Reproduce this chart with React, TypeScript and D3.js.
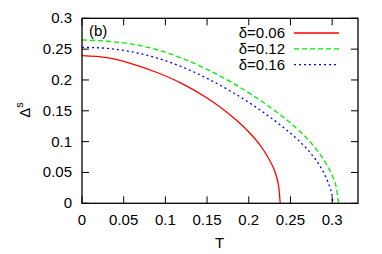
import React, {useEffect, useRef} from 'react'
import * as d3 from 'd3'

const width = 382;
const height = 254;
const margin = ({top: 18.3, right: 24, bottom: 50.7, left: 82});

// delta = 0.06
const t06 = [0, 0.03, 0.06, 0.09, 0.12, 0.15, 0.18, 0.2, 0.215, 0.225, 0.232, 0.236, 0.2377];
const d06 = [0.2394, 0.2361, 0.2262, 0.2121, 0.1941, 0.1707, 0.1407, 0.1157, 0.0917, 0.0697, 0.0487, 0.026, 0];
// delta = 0.12
const t12 = [0, 0.03, 0.06, 0.09, 0.12, 0.15, 0.18, 0.21, 0.24, 0.26, 0.28, 0.292, 0.3, 0.305, 0.3077];
const d12 = [0.2648, 0.2628, 0.258, 0.249, 0.2352, 0.2172, 0.1956, 0.1704, 0.1413, 0.1183, 0.0893, 0.0659, 0.0451, 0.0251, 0];
// delta = 0.16
const t16 = [0, 0.03, 0.06, 0.09, 0.12, 0.15, 0.18, 0.21, 0.24, 0.26, 0.275, 0.285, 0.292, 0.297, 0.3, 0.301];
const d16 = [0.253, 0.2512, 0.2455, 0.2356, 0.2212, 0.2026, 0.1804, 0.1546, 0.1246, 0.1016, 0.0798, 0.0613, 0.0438, 0.0268, 0.0127, 0];

const labels = ["δ=0.06", "δ=0.12", "δ=0.16"];
const colors = ["#ff0000", "#00ee00", "#0000ff"];
const dashes = [null, "5,3", "2,3"];

const xTicks = [0, 0.05, 0.1, 0.15, 0.2, 0.25, 0.3];
const yTicks = [0, 0.05, 0.1, 0.15, 0.2, 0.25, 0.3];

const font = "'Liberation Sans', Arial, Helvetica, sans-serif";

export default function App() {
    const ref = useRef<SVGSVGElement>(null);

    useEffect(() => {
        const series = [
            t06.map((t, i) => [t, d06[i]]),
            t12.map((t, i) => [t, d12[i]]),
            t16.map((t, i) => [t, d16[i]]),
        ];

        const x = d3.scaleLinear()
            .domain([0, 0.331])
            .range([margin.left, width - margin.right]);

        const y = d3.scaleLinear()
            .domain([0, 0.3])
            .range([height - margin.bottom, margin.top]);

        const svg = d3.select(ref.current);
        svg.selectAll("*").remove();

        const line = d3.line<number[]>()
            .x(d => x(d[0]))
            .y(d => y(d[1]))
            .curve(d3.curveMonotoneX);

        svg.append("g")
            .attr("fill", "none")
            .attr("stroke-width", 1.3)
            .selectAll("path")
            .data(series)
            .join("path")
            .attr("stroke", (d, i) => colors[i])
            .attr("stroke-dasharray", (d, i) => dashes[i])
            .attr("d", d => line(d));

        const tickLen = 7;
        const axes = svg.append("g")
            .attr("stroke", "#000")
            .attr("stroke-width", 1);

        xTicks.forEach(v => {
            axes.append("line")
                .attr("x1", x(v)).attr("x2", x(v))
                .attr("y1", y(0)).attr("y2", y(0) - tickLen);
            axes.append("line")
                .attr("x1", x(v)).attr("x2", x(v))
                .attr("y1", y(0.3)).attr("y2", y(0.3) + tickLen);
        });
        yTicks.forEach(v => {
            axes.append("line")
                .attr("x1", x.range()[0]).attr("x2", x.range()[0] + tickLen)
                .attr("y1", y(v)).attr("y2", y(v));
            axes.append("line")
                .attr("x1", x.range()[1]).attr("x2", x.range()[1] - tickLen)
                .attr("y1", y(v)).attr("y2", y(v));
        });

        axes.append("rect")
            .attr("x", x.range()[0])
            .attr("y", y(0.3))
            .attr("width", x.range()[1] - x.range()[0])
            .attr("height", y(0) - y(0.3))
            .attr("fill", "none")
            .attr("stroke-width", 1.3);

        const text = svg.append("g")
            .attr("font-family", font)
            .attr("font-size", 15)
            .attr("fill", "#000");

        text.selectAll(".xt")
            .data(xTicks)
            .join("text")
            .attr("x", d => x(d))
            .attr("y", y(0) + 21.5)
            .attr("text-anchor", "middle")
            .text(d => String(d));

        text.selectAll(".yt")
            .data(yTicks)
            .join("text")
            .attr("x", x(0) - 10)
            .attr("y", d => y(d) + 5)
            .attr("text-anchor", "end")
            .text(d => String(d));

        text.append("text")
            .attr("x", x(0.165))
            .attr("y", 248)
            .attr("text-anchor", "middle")
            .text("T");

        const yl = text.append("text")
            .attr("transform", "translate(30,110) rotate(-90)")
            .attr("text-anchor", "middle");
        yl.append("tspan").text("Δ");
        yl.append("tspan")
            .attr("dy", -7)
            .attr("font-size", 11)
            .text("s");

        text.append("text")
            .attr("x", 89)
            .attr("y", 36)
            .text("(b)");

        labels.forEach((lab, i) => {
            const yy = 38 + i * 15.8;
            text.append("text")
                .attr("x", 285)
                .attr("y", yy)
                .attr("text-anchor", "end")
                .text(lab);
            svg.append("line")
                .attr("x1", 294).attr("x2", 339)
                .attr("y1", yy - 5).attr("y2", yy - 5)
                .attr("stroke", colors[i])
                .attr("stroke-width", 1.3)
                .attr("stroke-dasharray", dashes[i]);
        });
    }, []);

    return <svg ref={ref} width={width} height={height}
                style={{position: "absolute", left: 0, top: 0, background: "#fff"}}/>;
}
